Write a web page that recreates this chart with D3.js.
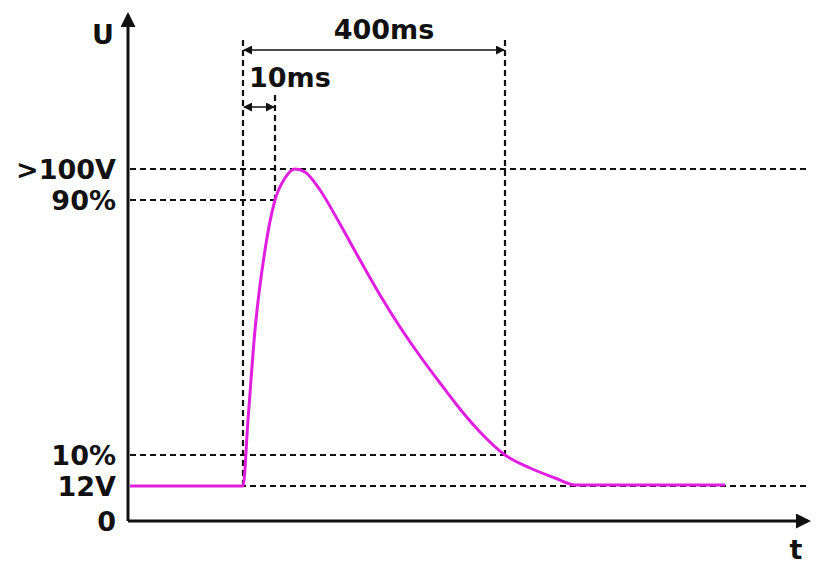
<!DOCTYPE html>
<html><head><meta charset="utf-8">
<script src="https://cdn.jsdelivr.net/npm/d3@7"></script>
<style>body{margin:0;background:#fff}text{font-family:"DejaVu Sans";font-weight:bold;font-size:27px;fill:#111}</style>
</head><body><svg id="c" width="832" height="579"></svg>
<script>
// abstract units: t (0..680), U (0..506)
const pulseT = [2,115,120,127,137,147,157,167,177,192,212,232,252,272,292,312,332,352,377,402,427,447,597];
const pulseU = [35,35,101,191,271,321,343,352,349,331,297,261,226,194,165,138,112,89,66,53,43,36,36];
const levelNames = [">100V","90%","10%","12V","0"];
const levelU = [352,321,66,35,0];
const markT = [115,147,377]; // pulse start, 10ms, 400ms
const dimLabels = ["10ms","400ms"];

const svg = d3.select("#c");
const x = d3.scaleLinear().domain([0,680]).range([128,808]);
const y = d3.scaleLinear().domain([0,506]).range([521,15]);
const col = "#111";
svg.append("defs").html('<marker id="ar" viewBox="0 0 10 10" refX="9" refY="5" markerWidth="6" markerHeight="6" orient="auto-start-reverse"><path d="M0,0L10,5L0,10z" fill="#111"/></marker><marker id="big" viewBox="0 0 10 10" refX="8" refY="5" markerWidth="5" markerHeight="5" orient="auto"><path d="M0,0L10,5L0,10z" fill="#111"/></marker>');
svg.append("line").attr("x1",x(0)).attr("y1",y(0)).attr("x2",x(0)).attr("y2",y(506)).attr("stroke",col).attr("stroke-width",3).attr("marker-end","url(#big)");
svg.append("line").attr("x1",x(0)).attr("y1",y(0)).attr("x2",x(680)).attr("y2",y(0)).attr("stroke",col).attr("stroke-width",3).attr("marker-end","url(#big)");
svg.append("text").attr("x",x(0)-14).attr("y",y(477)).attr("text-anchor","end").text("U");
svg.append("text").attr("x",x(668)).attr("y",y(-38)).attr("text-anchor","middle").text("t");
const dash = (x1,y1,x2,y2)=>svg.append("line").attr("x1",x1).attr("y1",y1).attr("x2",x2).attr("y2",y2).attr("stroke",col).attr("stroke-width",2.2).attr("stroke-dasharray","6,4");
dash(x(2),y(levelU[0]),x(682),y(levelU[0]));
dash(x(2),y(levelU[1]),x(markT[1]),y(levelU[1]));
dash(x(2),y(levelU[2]),x(markT[2]),y(levelU[2]));
dash(x(2),y(levelU[3]),x(682),y(levelU[3]));
dash(x(markT[0]),y(481),x(markT[0]),y(levelU[3]));
dash(x(markT[1]),y(426),x(markT[1]),y(levelU[1]));
dash(x(markT[2]),y(481),x(markT[2]),y(levelU[2]));
levelNames.forEach((n,i)=>svg.append("text").attr("x",x(-12)).attr("y",y(levelU[i])+10).attr("text-anchor","end").text(n));
svg.append("line").attr("x1",x(markT[0])+1).attr("y1",y(471)).attr("x2",x(markT[2])-1).attr("y2",y(471)).attr("stroke",col).attr("stroke-width",1.5).attr("marker-start","url(#ar)").attr("marker-end","url(#ar)");
svg.append("line").attr("x1",x(markT[0])+1).attr("y1",y(414)).attr("x2",x(markT[1])-1).attr("y2",y(414)).attr("stroke",col).attr("stroke-width",1.5).attr("marker-start","url(#ar)").attr("marker-end","url(#ar)");
svg.append("text").attr("x",(x(markT[0])+x(markT[2]))/2+10).attr("y",y(471)-11).attr("text-anchor","middle").text(dimLabels[1]);
svg.append("text").attr("x",x(markT[0])+6).attr("y",y(414)-20).text(dimLabels[0]);
const line = d3.line().x(d=>x(d[0])).y(d=>y(d[1])).curve(d3.curveMonotoneX);
svg.append("path").attr("d",line(pulseT.map((t,i)=>[t,pulseU[i]]))).attr("fill","none").attr("stroke","#e01ee0").attr("stroke-width",3);
</script></body></html>
